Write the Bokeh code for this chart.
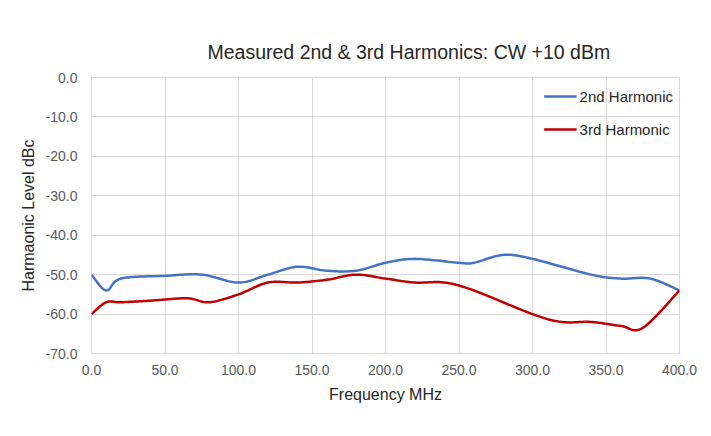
import numpy as np
from bokeh.plotting import figure
from bokeh.models import NumeralTickFormatter, FixedTicker, Range1d, Legend, LegendItem
from bokeh.embed import file_html
from bokeh.resources import INLINE

# ---- data ----
freq_2nd = [0, 10, 20, 50, 75, 100, 120, 140, 160, 180, 200, 220, 250, 260, 280, 300, 340, 360, 380, 400]
level_2nd = [-50, -54, -51, -50.3, -50, -52, -50, -48, -49, -49, -47, -46, -47, -47, -45, -46, -50, -51, -51, -54]

freq_3rd = [0, 10, 20, 40, 65, 80, 100, 120, 140, 160, 180, 200, 220, 240, 260, 300, 320, 340, 360, 375, 400]
level_3rd = [-60, -57, -57, -56.6, -56, -57, -55, -52, -52, -51.3, -50, -51, -52, -52, -54, -60, -62, -62, -63, -63.5, -54]

x_ticks = [0, 50, 100, 150, 200, 250, 300, 350, 400]
y_ticks = [0, -10, -20, -30, -40, -50, -60, -70]

FONT = "Liberation Sans"


def smooth(xs, ys, n=24):
    """Render helper: Catmull-Rom style smoothed line through the data points."""
    xs = np.asarray(xs, float)
    ys = np.asarray(ys, float)
    px = np.concatenate([[xs[0]], xs, [xs[-1]]])
    py = np.concatenate([[ys[0]], ys, [ys[-1]]])
    outx, outy = [], []
    t = np.linspace(0, 1, n, endpoint=False)
    for i in range(1, len(px) - 2):
        p0x, p1x, p2x, p3x = px[i - 1], px[i], px[i + 1], px[i + 2]
        p0y, p1y, p2y, p3y = py[i - 1], py[i], py[i + 1], py[i + 2]
        c1x, c1y = p1x + (p2x - p0x) / 6, p1y + (p2y - p0y) / 6
        c2x, c2y = p2x - (p3x - p1x) / 6, p2y - (p3y - p1y) / 6
        b0 = (1 - t) ** 3
        b1 = 3 * (1 - t) ** 2 * t
        b2 = 3 * (1 - t) * t ** 2
        b3 = t ** 3
        outx.extend(b0 * p1x + b1 * c1x + b2 * c2x + b3 * p2x)
        outy.extend(b0 * p1y + b1 * c1y + b2 * c2y + b3 * p2y)
    outx.append(xs[-1])
    outy.append(ys[-1])
    return outx, outy


p = figure(width=703, height=428, output_backend="svg", toolbar_location=None,
           x_range=Range1d(0, 400), y_range=Range1d(-70, 0),
           min_border_left=91, min_border_right=24, min_border_top=77, min_border_bottom=75,
           title="Measured 2nd & 3rd Harmonics: CW +10 dBm")

p.title.text_font = FONT
p.title.text_font_size = "19.5px"
p.title.text_font_style = "normal"
p.title.text_color = "#262626"
p.title.align = "left"
p.title.offset = 116
p.title.standoff = 30

p.outline_line_color = "#d9d9d9"
p.background_fill_color = "white"
p.border_fill_color = "white"

for ax in (p.xaxis[0], p.yaxis[0]):
    ax.axis_line_color = None
    ax.major_tick_line_color = None
    ax.minor_tick_line_color = None
    ax.major_label_text_font = FONT
    ax.major_label_text_font_size = "14px"
    ax.major_label_text_color = "#595959"
    ax.axis_label_text_font = FONT
    ax.axis_label_text_font_size = "16px"
    ax.axis_label_text_font_style = "normal"
    ax.axis_label_text_color = "#262626"
    ax.formatter = NumeralTickFormatter(format="0.0")

p.xaxis.ticker = FixedTicker(ticks=x_ticks)
p.yaxis.ticker = FixedTicker(ticks=y_ticks)
p.xaxis.axis_label = "Frequency MHz"
p.yaxis.axis_label = "Harmaonic Level dBc"
p.xaxis.major_label_standoff = 5
p.yaxis.major_label_standoff = 8
p.xaxis.axis_label_standoff = 8
p.yaxis.axis_label_standoff = 6

p.grid.grid_line_color = "#d9d9d9"
p.grid.grid_line_width = 1

sx2, sy2 = smooth(freq_2nd, level_2nd)
sx3, sy3 = smooth(freq_3rd, level_3rd)
r2 = p.line(sx2, sy2, line_color="#4472C4", line_width=2.5)
r3 = p.line(sx3, sy3, line_color="#C00000", line_width=2.5)

legend = Legend(items=[LegendItem(label="2nd Harmonic", renderers=[r2]),
                       LegendItem(label="3rd Harmonic", renderers=[r3])],
                location="top_right")
legend.border_line_color = None
legend.background_fill_alpha = 0
legend.label_text_font = FONT
legend.label_text_font_size = "15px"
legend.label_text_color = "#262626"
legend.glyph_width = 33
legend.glyph_height = 26
legend.label_height = 26
legend.label_standoff = 3
legend.spacing = 7
legend.padding = 10
legend.margin = 6
p.add_layout(legend)

open("out.html", "w").write(file_html(p, INLINE))
